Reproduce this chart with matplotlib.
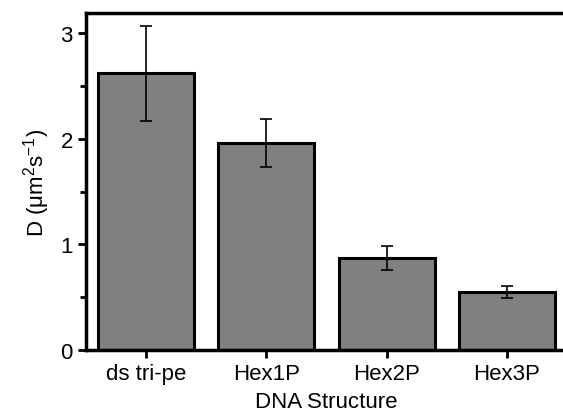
import numpy as np
import matplotlib.pyplot as plt
from matplotlib.ticker import MultipleLocator

plt.rcParams['font.family'] = ['Liberation Sans', 'DejaVu Sans']
plt.rcParams['mathtext.fontset'] = 'custom'
plt.rcParams['mathtext.rm'] = 'Liberation Sans'

structures = ['ds tri-pe', 'Hex1P', 'Hex2P', 'Hex3P']
D = [2.62, 1.96, 0.87, 0.55]
D_err = [0.45, 0.225, 0.11, 0.06]

fig = plt.figure(figsize=(5.63, 4.14), dpi=100)
ax = fig.add_axes([86/563, 63/414, (567-86)/563, (351-14)/414])

x = np.arange(len(structures))
ax.bar(x, D, width=0.8, color='#808080', edgecolor='black', linewidth=2.2,
       yerr=D_err, capsize=4, error_kw=dict(elinewidth=1.2, capthick=1.2, ecolor='black'))

ax.set_xlim(-0.5, 3.5)
ax.set_ylim(0, 3.19)
ax.set_xticks(x)
ax.set_xticklabels(structures)
ax.yaxis.set_major_locator(MultipleLocator(1))
ax.yaxis.set_minor_locator(MultipleLocator(0.5))
ax.tick_params(axis='both', which='major', direction='out', length=6, width=2, labelsize=16)
ax.tick_params(axis='y', which='minor', direction='out', length=4, width=2)
for s in ax.spines.values():
    s.set_linewidth(2.5)

ax.set_xlabel('DNA Structure', fontsize=16, labelpad=5)
ax.set_ylabel(r'D ($\mathregular{\mu m^{2}s^{-1}}$)', fontsize=16, labelpad=6)

fig.savefig('out.png', dpi=100)
